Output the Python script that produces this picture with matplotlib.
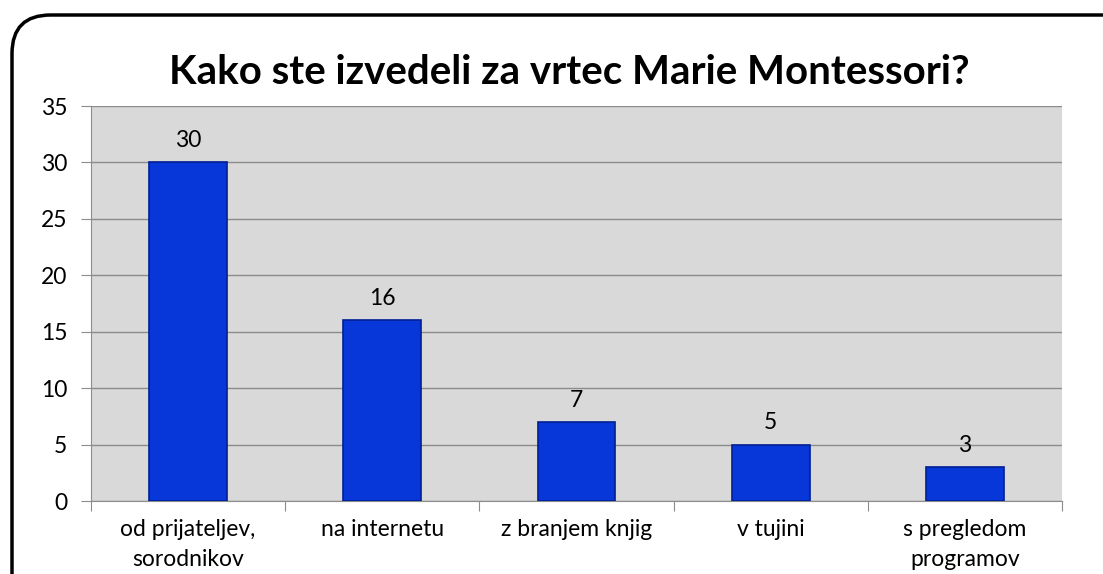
import matplotlib.pyplot as plt
from matplotlib.patches import FancyBboxPatch

categories = ["od prijateljev,\nsorodnikov", "na internetu", "z branjem knjig",
              "v tujini", "s pregledom\nprogramov"]
values = [30, 16, 7, 5, 3]
yticks = [0, 5, 10, 15, 20, 25, 30, 35]

plt.rcParams['font.family'] = ['Lato', 'DejaVu Sans']

fig = plt.figure(figsize=(11.03, 5.74), dpi=100)

# rounded outer frame (runs off the right and bottom edges)
top = 1 - 15 / 574
frame = FancyBboxPatch((12 / 1103, -0.5), 1.2, top + 0.5,
                       boxstyle="round,pad=0,rounding_size=0.035",
                       transform=fig.transFigure, facecolor='none',
                       edgecolor='black', linewidth=2.5, zorder=5,
                       mutation_aspect=1103 / 574)
fig.patches.append(frame)

ax = fig.add_axes([91 / 1103, 1 - 501 / 574, (1062 - 91) / 1103, (501 - 106) / 574])
ax.set_facecolor('#d9d9d9')

x = list(range(len(categories)))
bars = ax.bar(x, values, width=0.4, color='#0737d9', edgecolor='#001f94',
              linewidth=1.2, zorder=3)
for xi, v in zip(x, values):
    ax.annotate(str(v), (xi, v), xytext=(0, 8), textcoords='offset points',
                ha='center', va='bottom', fontsize=16.5, color='black')

ax.set_xlim(-0.5, len(categories) - 0.5)
ax.set_ylim(0, 35)
ax.set_yticks(yticks)
ax.tick_params(axis='y', labelsize=16.5, length=7, color='#8c8c8c', pad=10)
ax.yaxis.grid(True, color='#8c8c8c', linewidth=1, zorder=1)
ax.set_axisbelow(True)

ax.set_xticks([i - 0.5 for i in range(len(categories) + 1)])
ax.set_xticklabels([])
ax.set_xticks(x, minor=True)
ax.set_xticklabels(categories, minor=True, fontsize=16.5, linespacing=1.5)
ax.tick_params(axis='x', which='major', length=7, color='#8c8c8c')
ax.tick_params(axis='x', which='minor', length=0, pad=13)

for s in ['top', 'right']:
    ax.spines[s].set_visible(False)
for s in ['left', 'bottom']:
    ax.spines[s].set_color('#8c8c8c')

fig.text(569 / 1103, 1 - 73 / 574, "Kako ste izvedeli za vrtec Marie Montessori?",
         ha='center', va='center', fontsize=29, fontweight='bold')

fig.savefig('out.png', dpi=100)
